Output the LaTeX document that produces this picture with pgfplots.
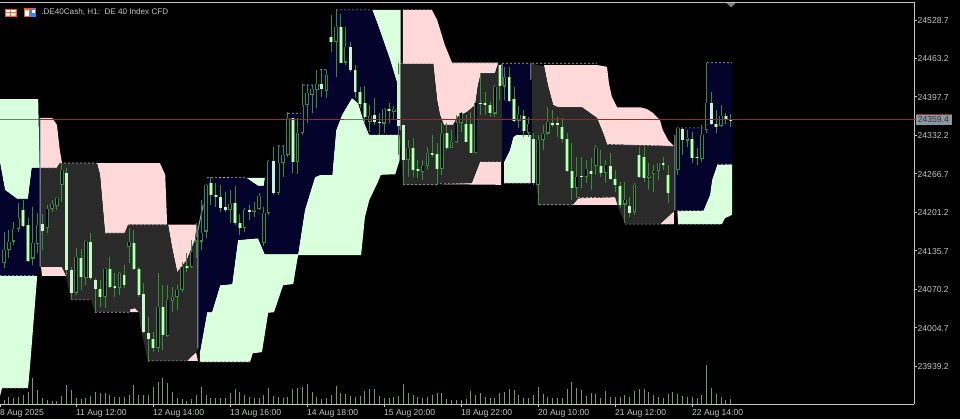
\documentclass[border=0pt]{standalone}
\usepackage{fontspec}
\setmainfont{Liberation Sans}
\usepackage{pgfplots}
\usepackage{pgfplotstable}
\pgfplotsset{compat=1.18}

\definecolor{c_bull}{HTML}{D9FFDC}
\definecolor{c_bear}{HTML}{FFD9D9}
\definecolor{c_navy}{HTML}{03032B}
\definecolor{c_gray}{HTML}{2A2A2A}
\definecolor{c_wick}{HTML}{358F35}
\definecolor{c_body}{HTML}{C8F8C8}
\definecolor{c_txt}{HTML}{C4C4C4}
\definecolor{c_sliver}{HTML}{CFE6FF}
\definecolor{c_price}{HTML}{93282D}
\definecolor{c_pricebox}{HTML}{8A98A6}

% bull candles: bar high top bottom low
\pgfplotstableread{
k h t b l
0 24168 24137 24115 24106
1 24171 24151 24137 24123
2 24185 24173 24151 24145
3 24217 24191 24173 24168
6 24210 24149 24122 24111
7 24200 24179 24147 24132
9 24214 24207 24174 24166
10 24222 24215 24207 24202
11 24227 24225 24212 24205
12 24285 24273 24248 24219
15 24140 24125 24064 24060
17 24154 24152 24089 24077
21 24106 24105 24057 24038
24 24099 24098 24072 24060
26 24174 24151 24142 24115
32 24098 24040 23970 23963
34 24077 24052 23990 23989
35 24074 24057 24050 24031
36 24077 24069 24057 24035
37 24116 24108 24069 24065
39 24154 24134 24108 24106
40 24183 24159 24151 24123
41 24222 24166 24151 24137
42 24249 24248 24168 24157
47 24239 24215 24205 24183
50 24208 24205 24174 24168
52 24219 24205 24202 24193
53 24234 24229 24207 24205
54 24210 24200 24149 24144
55 24290 24289 24200 24197
57 24316 24285 24234 24231
58 24316 24299 24285 24261
59 24372 24362 24299 24295
61 24362 24336 24287 24266
62 24420 24384 24336 24333
63 24418 24404 24384 24353
64 24418 24411 24401 24370
65 24444 24420 24409 24379
67 24444 24435 24408 24396
69 24547 24517 24491 24432
71 24517 24483 24456 24452
76 24384 24365 24355 24338
79 24379 24377 24352 24336
81 24382 24377 24372 24358
84 24324 24311 24290 24261
87 24290 24280 24270 24256
88 24312 24302 24280 24273
91 24353 24335 24275 24265
93 24341 24321 24311 24311
94 24367 24353 24321 24319
95 24372 24370 24353 24338
98 24389 24387 24302 24302
102 24418 24415 24369 24363
104 24449 24432 24415 24392
107 24382 24367 24357 24345
109 24363 24352 24336 24329
111 24333 24324 24248 24214
112 24350 24335 24324 24307
113 24380 24355 24335 24333
119 24295 24261 24242 24225
121 24290 24275 24261 24251
123 24316 24311 24280 24265
125 24290 24282 24268 24251
129 24253 24222 24214 24183
131 24251 24248 24202 24197
134 24285 24263 24260 24239
135 24282 24271 24266 24236
136 24285 24285 24271 24256
140 24345 24345 24273 24265
142 24341 24328 24323 24312
145 24350 24333 24292 24287
146 24456 24387 24341 24336
149 24384 24365 24348 24346
}\tabUp

% bear candles
\pgfplotstableread{
k h t b l
4 24222 24205 24178 24176
5 24191 24179 24118 24116
8 24198 24181 24169 24137
13 24277 24268 24103 24094
14 24108 24103 24064 24052
16 24139 24123 24091 24069
18 24166 24151 24089 24086
19 24089 24086 24070 24031
20 24086 24070 24057 24040
22 24125 24105 24074 24072
23 24098 24076 24072 24057
25 24111 24094 24077 24072
27 24171 24149 24105 24103
28 24108 24105 24060 24057
29 24081 24062 23997 23995
30 24023 23995 23985 23946
31 23997 23985 23970 23963
33 24077 24040 23992 23967
38 24132 24110 24106 24099
43 24261 24251 24231 24214
44 24251 24231 24227 24210
45 24248 24227 24208 24202
46 24236 24210 24205 24202
48 24246 24217 24183 24179
49 24198 24183 24174 24162
51 24214 24205 24202 24188
56 24312 24289 24234 24231
60 24362 24362 24287 24268
66 24444 24420 24411 24398
68 24537 24500 24491 24474
70 24539 24517 24456 24456
72 24491 24483 24444 24440
73 24452 24444 24406 24396
74 24415 24406 24386 24379
75 24416 24387 24363 24353
77 24396 24367 24355 24350
78 24370 24355 24353 24333
80 24387 24377 24374 24353
82 24456 24437 24348 24299
83 24350 24350 24290 24248
85 24328 24311 24273 24261
86 24290 24275 24271 24260
89 24333 24302 24299 24295
90 24319 24300 24275 24248
92 24353 24336 24311 24307
96 24367 24352 24321 24321
97 24372 24352 24302 24302
99 24438 24387 24386 24367
100 24406 24387 24384 24367
101 24389 24384 24370 24363
103 24452 24452 24416 24392
105 24449 24432 24391 24389
106 24415 24394 24357 24355
108 24375 24365 24340 24329
110 24336 24326 24251 24248
114 24375 24353 24350 24346
115 24363 24353 24350 24329
116 24362 24346 24326 24319
117 24336 24326 24271 24270
118 24319 24271 24242 24222
120 24295 24263 24261 24242
122 24294 24271 24266 24239
124 24307 24280 24268 24261
126 24302 24280 24258 24256
127 24273 24258 24248 24236
128 24253 24246 24214 24208
130 24227 24212 24200 24193
132 24312 24299 24261 24260
133 24312 24295 24260 24253
137 24295 24285 24282 24273
138 24282 24265 24234 24217
141 24345 24343 24324 24299
143 24338 24326 24294 24285
144 24311 24295 24294 24282
147 24406 24387 24352 24350
148 24375 24352 24346 24336
150 24370 24365 24358 24352
151 24369 24360 24357 24346
}\tabDown

\pgfplotstableread{
k v
0 400
1 700
2 600
3 700
4 900
5 1200
6 2600
7 1400
8 600
9 400
10 300
11 300
12 800
13 1900
14 1400
15 600
16 500
17 600
18 800
19 1200
20 1100
21 1100
22 900
23 700
24 700
25 700
26 900
27 1900
28 900
29 900
30 900
31 1700
32 2200
33 2600
34 2100
35 1200
36 600
37 500
38 300
39 500
40 900
41 1700
42 900
43 600
44 600
45 600
46 600
47 1100
48 1500
49 1200
50 900
51 700
52 600
53 600
54 900
55 1600
56 800
57 700
58 600
59 700
60 1500
61 1600
62 1700
63 2000
64 1200
65 700
66 500
67 600
68 900
69 1800
70 1100
71 1000
72 800
73 700
74 800
75 1300
76 1500
77 1500
78 800
79 600
80 600
81 700
82 800
83 2000
84 1100
85 900
86 700
87 600
88 700
89 900
90 1100
91 1100
92 500
93 400
94 400
95 400
96 500
97 1300
98 900
99 1100
100 700
101 600
102 600
103 1100
104 1200
105 1500
106 1400
107 900
108 600
109 600
110 900
111 1700
112 1000
113 700
114 600
115 600
116 600
117 1500
118 2200
119 1600
120 1400
121 800
122 1100
123 1000
124 600
125 1300
126 700
127 700
128 700
129 900
130 700
131 1300
132 1500
133 1500
134 1200
135 900
136 700
137 600
138 1000
139 1200
140 1000
141 800
142 700
143 700
144 600
145 900
146 3900
147 1600
148 1000
149 700
150 400
151 500
}\tabVol

\pgfplotsset{
  wicks/.style={draw=none,mark=none,forget plot,
    error bars/.cd,y dir=both,y explicit,error mark=none,
    error bar style={line width=.7pt,color=c_wick}},
  bodies/.style 2 args={draw=none,mark=none,forget plot,
    error bars/.cd,y dir=both,y explicit,error mark=none,
    error bar style={line width=#1,color=#2}},
}

\begin{document}
\begin{tikzpicture}
\path[use as bounding box] (0,0) rectangle (720pt,314.25pt);
\fill[black] (0,0) rectangle (720pt,314.25pt);

\begin{axis}[
  at={(0pt,11.25pt)},anchor=south west,
  scale only axis,width=685.5pt,height=301.5pt,
  xmin=-0.83,xmax=189.09,ymin=23874.6,ymax=24559.4,
  axis x line=bottom,axis y line=right,
  scaled y ticks=false,
  axis line style={-,color=c_txt,line width=.75pt},
  xtick={-0.8,15,31,47,63,79,95,111,127,143},
  xticklabels={8 Aug 2025,11 Aug 12:00,12 Aug 14:00,13 Aug 16:00,14 Aug 18:00,15 Aug 20:00,18 Aug 22:00,20 Aug 10:00,21 Aug 12:00,22 Aug 14:00},
  ytick={24528.7,24463.2,24397.7,24332.2,24266.7,24201.2,24135.7,24070.2,24004.7,23939.2},
  yticklabels={24528.7,24463.2,24397.7,24332.2,24266.7,24201.2,24135.7,24070.2,24004.7,23939.2},
  tick style={color=c_txt,line width=.75pt},
  tick align=outside,major tick length=2.25pt,
  ticklabel style={font=\fontsize{6.45}{7}\selectfont,text=c_txt},
  xticklabel style={anchor=north west,inner sep=0pt,xshift=-.3pt,yshift=-1.5pt},
  yticklabel style={anchor=west,inner sep=0pt,xshift=.3pt,yshift=-.4pt},
  unbounded coords=jump,
]
% green band
\addplot[fill=c_bull,draw=none,forget plot] coordinates {(-0.83,24394)(7.1,24394)(7.4,24277)(5.8,24277)(5,24224)(2.7,24224)(0.2,24239)(-0.83,24285)} --cycle;
\addplot[fill=c_bull,draw=none,forget plot] coordinates {(-0.83,24093)(6.9,24093)(5.4,23938)(5,23902)(-0.4,23902)(-0.83,23888)} --cycle;
\addplot[fill=c_bull,draw=none,forget plot] coordinates {(40.7,23963)(42.2,24031)(43.2,24031)(44.9,24077)(47.4,24079)(48.6,24154)(52.8,24157)(54.2,24130)(61.1,24130)(62.5,24205)(64.6,24261)(65.7,24265)(68.2,24265)(69,24341)(70.2,24367)(72.3,24396)(73.6,24387)(74.8,24355)(75.9,24333)(82.2,24333)(82.2,24290)(81.3,24266)(78.3,24265)(77.7,24253)(75.9,24222)(75,24193)(74.2,24128)(61.1,24128)(60.1,24079)(58,24077)(56.1,24031)(54.9,24030)(53.6,23963)(51.7,23961)(51.1,23946)(40.7,23946)} --cycle;
\addplot[fill=c_bull,draw=none,forget plot] coordinates {(76.5,24546)(82.4,24546)(82.4,24409)(81.5,24426)(80.2,24461)(77.7,24520)} --cycle;
\addplot[fill=c_bull,draw=none,forget plot] coordinates {(50.3,24260)(54.2,24260)(54,24246)(52.8,24246)} --cycle;
\addplot[fill=c_bull,draw=none,forget plot] coordinates {(103.9,24287)(105.1,24307)(105.8,24329)(106.4,24333)(109.5,24333)(109.5,24251)(103.9,24251)} --cycle;
\addplot[fill=c_bull,draw=none,forget plot] coordinates {(139.9,24203)(145.3,24203)(146.7,24231)(147.1,24256)(148.2,24282)(151.3,24283)(151.3,24197)(149.8,24191)(149.2,24181)(140.1,24181)} --cycle;
% pink band
\addplot[fill=c_bear,draw=none,forget plot] coordinates {(7.5,24362)(10,24362)(11,24350)(11.6,24307)(12.05,24285)(32.4,24285)(33.5,24265)(33.9,24180)(25.8,24180)(25.1,24166)(21,24166)(19.95,24265)(19.3,24285)(11.6,24285)(11,24277)(7.5,24277)} --cycle;
\addplot[fill=c_bear,draw=none,forget plot] coordinates {(34.1,24180)(40,24180)(39.7,24154)(38,24120)(36,24099)(34.9,24142)} --cycle;
\addplot[fill=c_bear,draw=none,forget plot] coordinates {(7.7,24108)(12.05,24108)(12.9,24093)(7.9,24093)} --cycle;
\addplot[fill=c_bear,draw=none,forget plot] coordinates {(26.2,24031)(26.2,24036)(27.2,24038)(28.05,24031)} --cycle;
\addplot[fill=c_bear,draw=none,forget plot] coordinates {(38,23948)(39.9,23963)(40.3,23948)} --cycle;
\addplot[fill=c_bear,draw=none,forget plot] coordinates {(82.9,24546)(88.9,24546)(90,24529)(91.6,24486)(93.1,24456)(102.7,24456)(102,24438)(99.1,24438)(98.5,24418)(97.9,24384)(96.2,24372)(94.3,24364)(93.3,24350)(91.4,24350)(90.6,24367)(90,24392)(89.2,24454)(82.9,24454)} --cycle;
\addplot[fill=c_bear,draw=none,forget plot] coordinates {(90.6,24249)(97.2,24251)(98.9,24287)(103.3,24287)(103.3,24248)} --cycle;
\addplot[fill=c_bear,draw=none,forget plot] coordinates {(112.2,24452)(123.2,24452)(125.3,24449)(125.7,24421)(126.3,24398)(127.4,24380)(132.2,24380)(133.6,24377)(134.9,24370)(136.3,24358)(136.9,24341)(138,24324)(139.2,24314)(125.3,24317)(124.5,24336)(123.2,24362)(120.1,24380)(115.1,24380)(114.1,24384)(113,24418)} --cycle;
\addplot[fill=c_bear,draw=none,forget plot] coordinates {(118.2,24214)(119.3,24225)(127,24227)(127.6,24214)} --cycle;
\addplot[fill=c_bear,draw=none,forget plot] coordinates {(136.3,24181)(139.2,24203)(139.2,24181)} --cycle;
% overlap of the two bands
\addplot[fill=c_navy,draw=none,forget plot] coordinates {(-0.83,24285)(0.2,24239)(2.7,24224)(5,24224)(5.8,24277)(7.4,24277)(7.4,24106)(6.7,24093)(-0.83,24093)} --cycle;
\addplot[fill=c_navy,draw=none,forget plot] coordinates {(40.3,23967)(40.3,24171)(41.1,24222)(42.2,24260)(50.1,24261)(52.8,24246)(54,24246)(54.9,24290)(56.7,24290)(56.9,24314)(59,24314)(59,24370)(62.1,24370)(62.1,24418)(65.7,24418)(65.7,24444)(67.3,24444)(69,24546)(76.5,24546)(77.7,24520)(80.2,24461)(81.5,24426)(82.2,24409)(82.2,24333)(75.9,24333)(74.8,24355)(73.6,24387)(72.3,24396)(70.2,24367)(69,24341)(68.2,24265)(65.7,24265)(64.6,24261)(62.5,24205)(61.1,24130)(54.2,24130)(52.8,24157)(48.6,24154)(47.4,24079)(44.9,24077)(43.2,24031)(42.2,24031)(40.7,23963)} --cycle;
\addplot[fill=c_navy,draw=none,forget plot] coordinates {(103.5,24454)(109.5,24454)(109.5,24333)(106.4,24333)(105.8,24329)(105.1,24307)(103.9,24287)(103.5,24287)} --cycle;
\addplot[fill=c_navy,draw=none,forget plot] coordinates {(139.6,24345)(145.9,24345)(146.1,24456)(151.3,24456)(151.3,24283)(148.2,24283)(147.1,24256)(146.7,24231)(145.3,24205)(139.9,24203)(139.4,24203)} --cycle;
\addplot[fill=c_gray,draw=none,forget plot] coordinates {(7.5,24277)(11,24277)(11.6,24285)(19.3,24285)(19.95,24265)(21,24166)(25.1,24166)(25.8,24180)(34.1,24180)(34.9,24142)(36,24099)(38,24120)(39.7,24154)(40.1,24180)(40.3,24180)(40.3,23967)(39.9,23963)(38,23948)(29.9,23948)(28.3,24009)(28.05,24031)(27.2,24038)(26.2,24036)(26.2,24031)(18.9,24031)(18.1,24052)(13.9,24052)(12.9,24093)(12.05,24108)(7.7,24108)} --cycle;
\addplot[fill=c_gray,draw=none,forget plot] coordinates {(82.3,24454)(89.2,24454)(90,24392)(90.6,24367)(91.4,24350)(93.3,24350)(94.3,24364)(96.2,24372)(97.9,24384)(98.5,24418)(99.1,24438)(102,24438)(103.1,24454)(103.5,24454)(103.5,24287)(98.9,24287)(97.2,24251)(90.6,24251)(90,24248)(82.9,24248)(82.2,24333)} --cycle;
\addplot[fill=c_gray,draw=none,forget plot] coordinates {(109.7,24454)(112.2,24450)(113,24418)(114.1,24384)(115.1,24380)(120.1,24380)(123.2,24362)(124.5,24336)(125.3,24317)(138.8,24314)(139.2,24314)(139.2,24203)(136.3,24181)(129.1,24181)(127.6,24210)(127,24227)(119.3,24225)(118.2,24214)(111.2,24214)(110.1,24273)(109.7,24333)} --cycle;
% channel edges
\addplot[color=white!70!black,line width=.5pt,dash pattern=on 1.5pt off 1.5pt,forget plot] coordinates {
(2.7,24224)(5,24224)(0,nan)(-0.83,24093)(6.7,24093)(0,nan)(-0.4,23902)(5,23902)(0,nan)
(7.5,24277)(11,24277)(0,nan)(11.6,24285)(19.3,24285)(0,nan)(21,24166)(25.1,24166)(0,nan)
(25.8,24180)(33.9,24180)(0,nan)(13.9,24052)(18.1,24052)(0,nan)(18.9,24031)(26.2,24031)(0,nan)
(29.9,23948)(38,23948)(0,nan)(40.7,23947)(51.1,23947)(0,nan)(42.2,24260)(50.1,24261)(0,nan)
(56.9,24314)(59,24314)(0,nan)(59,24370)(62.1,24370)(0,nan)(62.1,24418)(65.7,24418)(0,nan)
(65.7,24444)(67.3,24444)(0,nan)(69,24546)(76.5,24546)(0,nan)(82.9,24546)(88.9,24546)(0,nan)
(82.3,24455)(89.2,24455)(0,nan)(93.1,24455)(102.7,24455)(0,nan)(103.5,24455)(109.5,24455)(0,nan)
(109.7,24455)(123.2,24455)(0,nan)(82.9,24248)(90,24248)(0,nan)(90.6,24250)(97.2,24250)(0,nan)
(98.9,24287)(103.3,24287)(0,nan)(103.9,24251)(109.5,24251)(0,nan)(111.2,24214)(118.2,24214)(0,nan)
(119.3,24226)(127,24227)(0,nan)(129.1,24181)(139.2,24181)(0,nan)(125.3,24317)(139,24314)(0,nan)
(139.8,24345)(145.9,24345)(0,nan)(146.1,24456)(151.3,24456)(0,nan)(148.2,24283)(151.3,24283)(0,nan)
(139.9,24204)(145.3,24204)(0,nan)(140.1,24181)(149.2,24181)(0,nan)(75.9,24333)(82.2,24333)};
% band change-over slivers
\addplot[color=c_sliver!70!black,line width=.75pt,forget plot] coordinates {
(7.5,24362)(7.5,24108)(0,nan)(40.3,23970)(40.3,24171)(41.4,24214)(0,nan)
(82.3,24454)(82.3,24341)(0,nan)(103.5,24454)(103.5,24418)(0,nan)(109.5,24454)(109.5,24427)(0,nan)
(109.5,24333)(109.5,24251)(0,nan)(139.4,24333)(139.4,24204)};
% candles
\addplot[wicks] table[x=k,y=t,y error plus expr=\thisrow{h}-\thisrow{t},y error minus expr=\thisrow{t}-\thisrow{l}] {\tabUp};
\addplot[wicks] table[x=k,y=t,y error plus expr=\thisrow{h}-\thisrow{t},y error minus expr=\thisrow{t}-\thisrow{l}] {\tabDown};
\addplot[bodies={2.7pt}{c_wick}] table[x=k,y=t,y error plus expr=0,y error minus expr=\thisrow{t}-\thisrow{b}] {\tabUp};
\addplot[bodies={1.4pt}{black!85!blue}] table[x=k,y=t,y error plus expr=0,y error minus expr=\thisrow{t}-\thisrow{b}-2.2] {\tabUp};
\addplot[bodies={2.7pt}{c_wick}] table[x=k,y=t,y error plus expr=0,y error minus expr=\thisrow{t}-\thisrow{b}] {\tabDown};
\addplot[bodies={1.7pt}{c_body}] table[x=k,y=t,y error plus expr=0,y error minus expr=\thisrow{t}-\thisrow{b}] {\tabDown};
% last price
\addplot[draw=c_price,line width=1pt,forget plot] coordinates {(-0.83,24359.4)(189.09,24359.4)};
\addplot[draw=c_bull!50!black,line width=1pt,forget plot] coordinates {(-0.83,24359.4)(7.1,24359.4)(0,nan)(70.6,24359.4)(74.8,24359.4)};
\end{axis}

% volume pane on the same frame
\begin{axis}[
  at={(0pt,11.25pt)},anchor=south west,
  scale only axis,width=685.5pt,height=301.5pt,
  xmin=-0.83,xmax=189.09,ymin=0,ymax=40200,
  hide axis,
]
\addplot[ycomb,color=c_body!60!black,line width=.7pt,mark=none] table[x=k,y=v] {\tabVol};
\end{axis}

% chart window furniture, in reference pixels
\begin{scope}[x=.75pt,y=-.75pt,yshift=314.25pt]
\draw[c_txt,line width=.75pt] (0,2) -- (914,2);
\fill[gray] (726.5,3) -- (735.5,3) -- (731,7.5) -- cycle;
\fill[c_price] (914,119) rectangle (916,120.2);
\fill[c_price] (916,114) rectangle (952,115);
\fill[c_pricebox] (916,115) rectangle (952,125);
\node[anchor=west,inner sep=0pt,text=black!80,font=\fontsize{6.45}{7}\selectfont] at (917.5,120) {24359.4};
\fill[red!55!orange!85!white] (4.5,8.5) rectangle (17,17);
\fill[white] (6,10) rectangle (10,12) (11,10) rectangle (15.5,12) (6,13) rectangle (10,15.5) (11,13) rectangle (15.5,15.5);
\fill[red!55!orange!85!white] (23.5,8) rectangle (36,17);
\fill[white] (25,9.5) rectangle (29,15.5);
\fill[blue!60!cyan!80!white] (30,9) rectangle (36,17);
\fill[white] (32,10) rectangle (34.5,13);
\node[anchor=west,inner sep=0pt,text=c_txt,font=\fontsize{6.1}{7}\selectfont] at (41,12.5) {.DE40Cash, H1:\ \ DE 40 Index CFD};
\end{scope}
\end{tikzpicture}
\end{document}
